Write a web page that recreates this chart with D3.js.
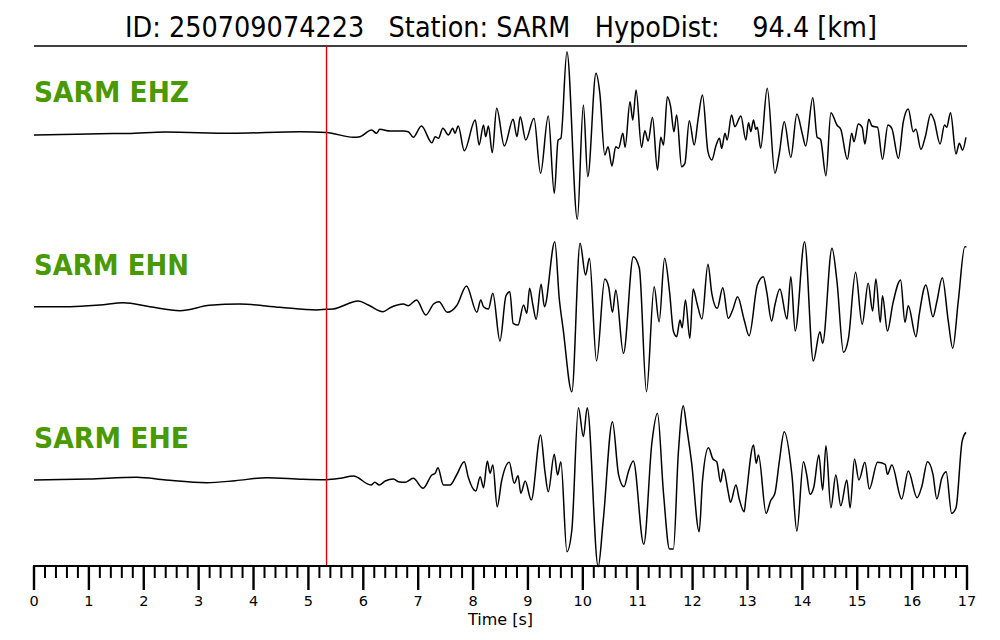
<!DOCTYPE html>
<html>
<head>
<meta charset="utf-8">
<script src="https://cdn.jsdelivr.net/npm/d3@7"></script>
<style>
  html, body { margin: 0; padding: 0; background: #fff; }
  svg { display: block; }
  text { font-family: "DejaVu Sans", sans-serif; white-space: pre; }
</style>
</head>
<body>
<svg id="chart" width="1000" height="640"></svg>
<script>
// ---------- data ----------
const titleText = "ID: 250709074223   Station: SARM   HypoDist:    94.4 [km]";
const channels = ["SARM EHZ", "SARM EHN", "SARM EHE"];
const pickTime = 5.33;
const tickLabels = ["0","1","2","3","4","5","6","7","8","9","10","11","12","13","14","15","16","17"];
const axisLabel = "Time [s]";

// [time (s), amplitude]
const ehz = [
  [0.00,-2],[0.5,-1.5],[1.2,-0.7],[1.7,-0.5],[2.4,1],[3.6,-0.3],[4.85,1.3],[5.33,0.5],
  [5.82,-4.3],[5.94,-3.7],[6.15,3],[6.24,-0.3],[6.30,3.7],[6.49,2],[6.73,2],[6.82,1.3],
  [6.91,-4.3],[7.06,7],[7.25,-9.7],[7.31,-3.7],[7.37,-5.3],[7.45,4.7],[7.55,-2],[7.63,4.7],
  [7.67,-0.3],[7.73,7],[7.84,-17.7],[8.04,13],[8.11,-12],[8.19,8],[8.23,-3.7],[8.28,7],
  [8.35,-19.7],[8.43,24.7],[8.57,-13],[8.73,13.7],[8.80,-3.7],[8.86,16.3],[8.96,-7],[9.11,14.7],
  [9.23,-40.3],[9.37,17],[9.48,-60.3],[9.55,-7],[9.60,-5.3],[9.71,81.3],[9.90,-86.3],[10.01,28],
  [10.09,-43.7],[10.24,59.7],[10.31,39.7],[10.40,-22],[10.46,-13.7],[10.53,-33],[10.60,-13.7],
  [10.65,-15.3],[10.73,-0.3],[10.77,-14.3],[10.86,31.3],[10.91,13],[10.97,43],[11.07,-14.3],
  [11.13,2.3],[11.19,-8],[11.27,15.7],[11.36,-37],[11.42,-4.3],[11.47,-12],[11.54,36.3],
  [11.60,26.3],[11.66,1.3],[11.71,18],[11.80,-33.7],[11.86,-30.3],[11.94,12.3],[12.03,-12],
  [12.10,13.7],[12.18,38],[12.28,-18.7],[12.35,-27],[12.43,-12],[12.49,-5.3],[12.53,-15.3],
  [12.59,-0.3],[12.63,-7],[12.71,18],[12.77,6.3],[12.88,17],[12.97,-7],[13.02,10.3],[13.06,1.3],
  [13.11,13],[13.15,3.7],[13.18,5.7],[13.24,-15.3],[13.36,44.7],[13.50,-40.3],[13.58,-20.3],
  [13.67,11.3],[13.79,-24.3],[13.90,19],[14.00,-1],[14.06,-13],[14.19,35.3],[14.27,-4.3],
  [14.33,-6.3],[14.43,-42.7],[14.52,20.3],[14.63,8],[14.70,3.7],[14.82,-26.3],[14.90,-0.3],
  [14.94,-8.7],[15.02,9],[15.09,5.7],[15.14,-11],[15.21,13.7],[15.27,7],[15.37,5.7],[15.46,-26.3],
  [15.56,8],[15.63,4.7],[15.75,-25.3],[15.84,11.3],[15.93,24],[16.02,1.3],[16.07,3.7],[16.16,-16.3],
  [16.24,-3.7],[16.34,19],[16.40,13],[16.51,-11],[16.59,8],[16.63,5.7],[16.70,20.3],[16.80,-21],
  [16.86,-10.3],[16.92,-17],[16.98,-4.3]
];

const ehn = [
  [0.00,0.3],[0.66,0.3],[1.2,2],[1.63,4.3],[2.11,0.3],[2.66,-3.7],[3.2,1.7],[3.75,3],[4.48,-0.3],
  [5.15,-3],[5.33,-2.3],[5.45,-2],[5.91,6],[6.09,2],[6.36,-4.7],[6.49,-0.7],[6.73,3],[6.82,1.3],
  [6.97,7],[7.14,-8],[7.28,3],[7.38,5.3],[7.53,-5.3],[7.71,2],[7.88,21],[8.07,-5.3],[8.14,7],
  [8.19,0.3],[8.28,-2],[8.36,13.7],[8.49,-34],[8.60,11.3],[8.67,15.3],[8.73,-16.3],[8.82,-18],
  [8.92,2],[8.98,-6.3],[9.03,18.7],[9.09,2],[9.15,-12.3],[9.24,22.7],[9.30,0.3],[9.49,65.3],
  [9.57,8.7],[9.64,-21.3],[9.80,-84.7],[9.95,63.7],[10.05,32],[10.12,48.7],[10.25,-54],
  [10.40,28],[10.47,20.3],[10.54,-5.3],[10.60,17],[10.74,-46.3],[10.92,50.3],[11.03,38.7],
  [11.16,-84.7],[11.30,20.3],[11.39,-14.7],[11.49,48.7],[11.58,15.3],[11.65,-24],[11.71,-29.7],
  [11.77,-13],[11.81,-20.7],[11.87,7],[11.95,-31.3],[12.01,18],[12.08,3.7],[12.17,-12],
  [12.28,42.7],[12.35,13.7],[12.45,-1.3],[12.55,19.3],[12.65,-11.3],[12.73,-3],[12.82,10.3],
  [12.94,-13],[13.03,-28.7],[13.18,22],[13.29,30.3],[13.35,15.3],[13.44,-14],[13.50,2],
  [13.59,18],[13.72,-12],[13.79,30.3],[13.87,-24],[14.04,65.3],[14.20,-54],[14.32,-24.7],
  [14.37,-36.3],[14.54,58.7],[14.63,26],[14.75,-45.3],[14.84,-31.3],[14.97,34.7],[15.09,-17.3],
  [15.20,23.7],[15.28,-4],[15.34,28],[15.42,-15.3],[15.46,11.3],[15.55,-24],[15.65,3.7],
  [15.79,27],[15.87,-15.3],[15.93,1.3],[16.07,-29.7],[16.13,-7.3],[16.25,22],[16.38,-9.7],
  [16.45,5.3],[16.55,29.3],[16.66,-14.7],[16.74,-41.3],[16.84,5.3],[16.96,60.3],[16.99,60.3]
];

const ehe = [
  [0.00,0],[1.0,1],[1.87,2.7],[2.4,0],[3.15,-2.7],[3.67,-0.7],[4.24,2.3],[4.9,0.7],[5.33,0.3],
  [5.58,1.7],[5.82,4],[6.14,-5],[6.21,-2.3],[6.29,-5],[6.40,-1],[6.55,1],[6.64,-1.7],[6.76,-2.3],
  [6.91,1.7],[7.09,-8.3],[7.25,5],[7.31,6.7],[7.36,12.3],[7.46,-5],[7.58,-5],[7.70,5],[7.84,18.3],
  [7.91,3.3],[8.05,-11],[8.13,3.3],[8.19,-7.7],[8.26,19],[8.31,6.7],[8.36,15],[8.44,-26.7],
  [8.52,-1],[8.66,17.7],[8.75,-3.3],[8.82,4.3],[8.87,-13.3],[8.95,-1],[9.06,-20],[9.23,45],
  [9.31,8.3],[9.37,-11.7],[9.48,25.7],[9.54,5],[9.60,18.3],[9.71,-71.7],[9.80,-50],[9.92,72.3],
  [10.01,43.3],[10.08,72.3],[10.28,-86.7],[10.37,-41.7],[10.54,58.3],[10.65,5.7],[10.75,-6.7],
  [10.83,8.3],[10.92,19],[11.11,-64.3],[11.26,38],[11.36,66.7],[11.47,-13.3],[11.58,-69],
  [11.65,-69],[11.74,26.7],[11.83,74.3],[11.89,53.3],[11.98,18.3],[12.12,-51.7],[12.18,-1],
  [12.29,32.3],[12.37,21],[12.44,18.3],[12.51,-2.3],[12.56,11],[12.65,-12.3],[12.69,-22.3],
  [12.79,-5],[12.85,-19],[12.94,-31.7],[12.97,-19],[13.11,35],[13.16,16.7],[13.20,25],
  [13.34,-33.3],[13.42,-21],[13.50,-13.3],[13.58,18.3],[13.67,48.3],[13.81,5],[13.90,-51],
  [14.02,18.3],[14.08,5],[14.14,-14.3],[14.21,-6.7],[14.30,25],[14.37,-10],[14.43,34.3],
  [14.52,-27.7],[14.61,5],[14.70,-25.7],[14.81,0],[14.87,-27.7],[14.95,21],[15.03,0],[15.14,17.7],
  [15.22,-9],[15.37,17.7],[15.51,15.7],[15.55,5.7],[15.63,15],[15.81,-19],[15.93,9],[16.09,-17.7],
  [16.18,-5.7],[16.28,18.3],[16.38,5.7],[16.45,-19],[16.54,1.7],[16.62,8.3],[16.72,-33.3],
  [16.80,-27.7],[16.91,38.3],[16.98,47.7]
];

const traces = [ehz, ehn, ehe];

// ---------- layout ----------
const svg = d3.select("#chart");
const left = 34, right = 967;
const axisY = 566;
const traceBase = [133, 307, 480];
const labelBase = [102, 274.5, 447.5];

const x = d3.scaleLinear().domain([0, 17]).range([left, right]);

// title
svg.append("text")
  .attr("x", 501).attr("y", 37)
  .attr("text-anchor", "middle")
  .attr("font-size", 29)
  .attr("textLength", 752)
  .attr("lengthAdjust", "spacingAndGlyphs")
  .attr("fill", "#000")
  .text(titleText);

svg.append("line")
  .attr("x1", left).attr("x2", right)
  .attr("y1", 46).attr("y2", 46)
  .attr("stroke", "#000").attr("stroke-width", 1.6);

// traces
traces.forEach((d, i) => {
  const y = d3.scaleLinear().domain([-100, 100]).range([traceBase[i] + 100, traceBase[i] - 100]);
  const line = d3.line()
    .x(p => x(p[0]))
    .y(p => y(p[1]))
    .curve(d3.curveMonotoneX);
  svg.append("path")
    .datum(d)
    .attr("d", line)
    .attr("fill", "none")
    .attr("stroke", "#000")
    .attr("stroke-width", 1.5)
    .attr("stroke-linejoin", "round");

  svg.append("text")
    .attr("x", left).attr("y", labelBase[i])
    .attr("font-size", 28)
    .attr("font-weight", "bold")
    .attr("textLength", 155)
    .attr("lengthAdjust", "spacingAndGlyphs")
    .attr("fill", "#4a9900")
    .text(channels[i]);
});

// pick line
svg.append("line")
  .attr("x1", x(pickTime)).attr("x2", x(pickTime))
  .attr("y1", 46).attr("y2", axisY)
  .attr("stroke", "#e00000").attr("stroke-width", 1.4);

// axis
const minorTicks = d3.range(0, 17.001, 0.2).filter(v => Math.abs(v - Math.round(v)) > 0.01);
const axisG = svg.append("g");
axisG.append("line")
  .attr("x1", left - 1).attr("x2", right + 1)
  .attr("y1", axisY).attr("y2", axisY)
  .attr("stroke", "#000").attr("stroke-width", 2);
axisG.selectAll("line.minor").data(minorTicks).enter().append("line")
  .attr("class", "minor")
  .attr("x1", d => x(d)).attr("x2", d => x(d))
  .attr("y1", axisY).attr("y2", axisY + 12)
  .attr("stroke", "#000").attr("stroke-width", 2);
axisG.selectAll("line.major").data(tickLabels).enter().append("line")
  .attr("class", "major")
  .attr("x1", d => x(+d)).attr("x2", d => x(+d))
  .attr("y1", axisY).attr("y2", axisY + 24)
  .attr("stroke", "#000").attr("stroke-width", 2.4);
axisG.selectAll("text.tick").data(tickLabels).enter().append("text")
  .attr("class", "tick")
  .attr("x", d => x(+d)).attr("y", 605.5)
  .attr("text-anchor", "middle")
  .attr("font-size", 14.5)
  .attr("fill", "#000")
  .text(d => d);

svg.append("text")
  .attr("x", 500.5).attr("y", 625)
  .attr("text-anchor", "middle")
  .attr("font-size", 16)
  .attr("textLength", 65)
  .attr("lengthAdjust", "spacingAndGlyphs")
  .attr("fill", "#000")
  .text(axisLabel);
</script>
</body>
</html>
